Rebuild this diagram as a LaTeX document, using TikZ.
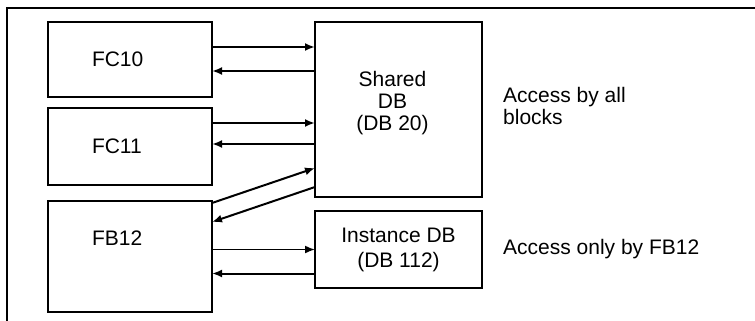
\documentclass[tikz,border=0pt]{standalone}
\usepackage{fontspec}
\setmainfont{Liberation Sans}
\usetikzlibrary{positioning,arrows.meta}

\begin{document}
\begin{tikzpicture}[x=1pt, y=-1pt,
    every node/.style={font=\fontsize{21}{22}\selectfont}]
  \tikzset{
    block/.style={draw, line width=2.6pt, outer sep=0pt, anchor=north west, minimum width=164pt},
    fblock/.style={block, text width=76pt, align=left},
    dbblock/.style={block, minimum width=167pt, align=center},
    note/.style={inner sep=0pt, align=left},
    flow/.style={line width=2pt, -{Latex[length=10pt, width=8pt]}}
  }
  \useasboundingbox (0,0) rectangle (755,321);

  % frame
  \draw[line width=1.8pt] (7,321) -- (7,8) -- (755,8);

  % calling blocks
  \node[fblock, minimum height=75pt]  (fc10) at (48,22)  {FC10};
  \node[fblock, minimum height=77pt]  (fc11) at (48,108) {FC11};
  \node[fblock, minimum height=111pt, text depth=36pt] (fb12) at (48,201) {FB12};

  % data blocks
  \node[dbblock, minimum height=175pt] (shared) at (315,22) {};
  \node[align=center, inner sep=0pt] (sharedtxt) at ([xshift=-6pt, yshift=6pt]shared.center) {Shared\\DB\\(DB 20)};
  \node[dbblock, minimum height=77pt, font=\fontsize{21}{25}\selectfont] (inst) at (315,211) {Instance DB\\(DB 112)};

  \node[note, right=21pt of shared, yshift=3.5pt] (allnote) {Access by all\\blocks};
  \node[note, right=21pt of inst] (fbnote) {Access only by FB12};

  % accesses
  \draw[flow] ([yshift=12.5pt]fc10.east) -- ([yshift=12.5pt]fc10.east -| shared.west);
  \draw[flow] ([yshift=-11.5pt]fc10.east -| shared.west) -- ([yshift=-11.5pt]fc10.east);
  \draw[flow] ([yshift=23.5pt]fc11.east) -- ([yshift=23.5pt]fc11.east -| shared.west);
  \draw[flow] ([yshift=2.5pt]fc11.east -| shared.west) -- ([yshift=2.5pt]fc11.east);
  \draw[flow] ([yshift=-2pt]fb12.north east) -- ([yshift=29pt]shared.south west);
  \draw[flow] ([yshift=10pt]shared.south west) -- ([yshift=-21pt]fb12.north east);
  \draw[flow, line width=1.6pt] ([yshift=7pt]fb12.east) -- ([yshift=7pt]fb12.east -| inst.west);
  \draw[flow] ([yshift=-17pt]fb12.east -| inst.west) -- ([yshift=-17pt]fb12.east);
\end{tikzpicture}
\end{document}
